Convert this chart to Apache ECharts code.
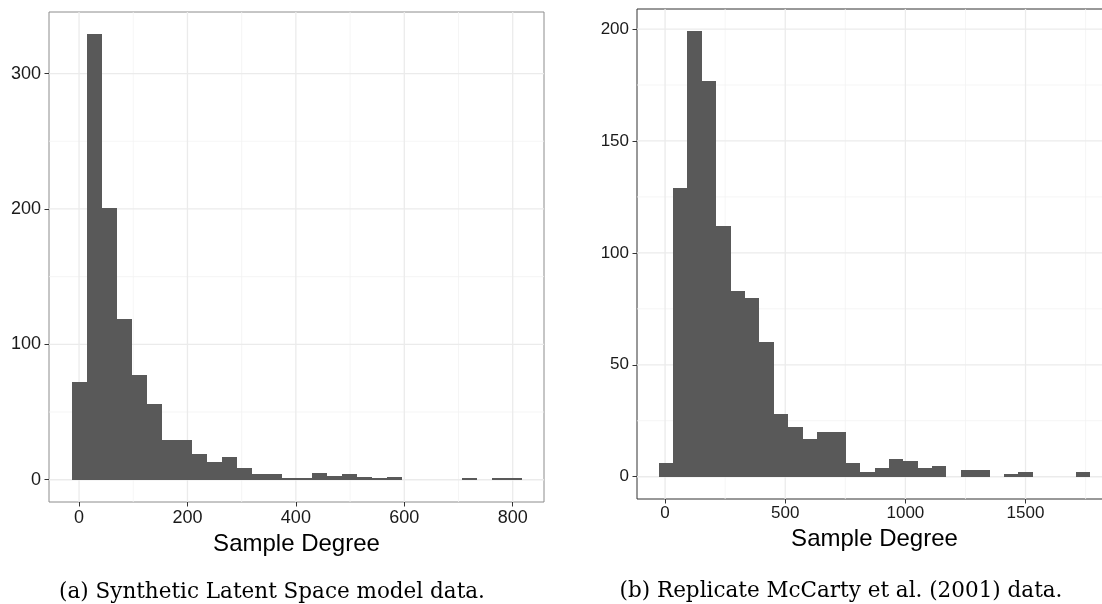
<!DOCTYPE html>
<html>
<head>
<meta charset="utf-8">
<script src="https://cdn.jsdelivr.net/npm/echarts@6/dist/echarts.min.js"></script>
<style>
html,body{margin:0;padding:0;background:#fff;}
#chart{width:1102px;height:604px;}
</style>
</head>
<body>
<div id="chart"></div>
<script>
// ---- data ----
const leftCounts = [72, 329, 201, 119, 77, 56, 29, 29, 19, 13, 17, 9, 4, 4, 1, 1, 5, 3, 4, 2, 1, 2, 0, 0, 0, 0, 1, 0, 1, 1];
const leftBinStart = -13.9;
const leftBinWidth = 27.67;
const rightCounts = [6, 129, 199, 177, 112, 83, 80, 60, 28, 22, 17, 20, 20, 6, 2, 4, 8, 7, 4, 5, 0, 3, 3, 0, 1, 2, 0, 0, 0, 2];
const rightBinStart = -27;
const rightBinWidth = 59.9;

const leftXTicks = [0, 200, 400, 600, 800];
const leftXMinor = [100, 300, 500, 700];
const leftYTicks = [0, 100, 200, 300];
const leftYMinor = [50, 150, 250];
const rightXTicks = [0, 500, 1000, 1500];
const rightXMinor = [250, 750, 1250, 1750];
const rightYTicks = [0, 50, 100, 150, 200];
const rightYMinor = [25, 75, 125, 175];

const xTitle = 'Sample Degree';
const captionA = '(a) Synthetic Latent Space model data.';
const captionB = '(b) Replicate McCarty et al. (2001) data.';

// ---- helpers ----
function binData(counts, start, width) {
  return counts.map((c, i) => [start + i * width, start + (i + 1) * width, c]);
}
function xExtent(counts, start, width) {
  const r = counts.length * width;
  return [start - 0.05 * r, start + r + 0.05 * r];
}
function yExtent(counts) {
  const m = Math.max.apply(null, counts);
  return [-0.05 * m, m * 1.05];
}

const MAJOR = {stroke: '#ebebeb', lineWidth: 1.3};
const MINOR = {stroke: '#f2f2f2', lineWidth: 0.8};

function vLines(values, idx, style, ymin) {
  return {
    type: 'custom', xAxisIndex: idx, yAxisIndex: idx, z: 1, silent: true,
    data: values.map(v => [v, ymin]),
    renderItem: function (params, api) {
      const cs = params.coordSys;
      const x = api.coord([api.value(0), api.value(1)])[0];
      return {type: 'line', shape: {x1: x, y1: cs.y, x2: x, y2: cs.y + cs.height}, style: style};
    }
  };
}
function hLines(values, idx, style, xmin) {
  return {
    type: 'custom', xAxisIndex: idx, yAxisIndex: idx, z: 1, silent: true,
    data: values.map(v => [xmin, v]),
    renderItem: function (params, api) {
      const cs = params.coordSys;
      const y = api.coord([api.value(0), api.value(1)])[1];
      return {type: 'line', shape: {x1: cs.x, y1: y, x2: cs.x + cs.width, y2: y}, style: style};
    }
  };
}
function bars(data, idx) {
  return {
    type: 'custom', xAxisIndex: idx, yAxisIndex: idx, z: 5, silent: true,
    data: data,
    encode: {x: [0, 1], y: 2},
    renderItem: function (params, api) {
      if (api.value(2) <= 0) return null;
      const p0 = api.coord([api.value(0), 0]);
      const p1 = api.coord([api.value(1), api.value(2)]);
      const x0 = Math.round(p0[0]), x1 = Math.round(p1[0]);
      const yb = Math.round(p0[1]), yt = Math.round(p1[1]);
      return {type: 'rect', shape: {x: x0, y: yt, width: x1 - x0, height: Math.max(1, yb - yt)},
              style: {fill: '#595959'}};
    }
  };
}

const lx = xExtent(leftCounts, leftBinStart, leftBinWidth);
const ly = yExtent(leftCounts);
const rx = xExtent(rightCounts, rightBinStart, rightBinWidth);
const ry = yExtent(rightCounts);

const plain = v => String(v);

function xAxisDef(idx, ext, ticks, fs, margin) {
  return {
    type: 'value', gridIndex: idx, min: ext[0], max: ext[1],
    axisLine: {show: false, onZero: false},
    splitLine: {show: false},
    axisTick: {show: true, customValues: ticks, length: 4.5, lineStyle: {color: '#333', width: 1}},
    axisLabel: {customValues: ticks, formatter: plain, color: '#1a1a1a', fontSize: fs, fontFamily: 'Liberation Sans', margin: margin},
    name: xTitle, nameLocation: 'middle', nameGap: 28,
    nameTextStyle: {fontSize: 24, color: '#000', fontFamily: 'Liberation Sans'}
  };
}
function yAxisDef(idx, ext, ticks, fs) {
  return {
    type: 'value', gridIndex: idx, min: ext[0], max: ext[1],
    axisLine: {show: false, onZero: false},
    splitLine: {show: false},
    axisTick: {show: true, customValues: ticks, length: 4.5, lineStyle: {color: '#333', width: 1}},
    axisLabel: {customValues: ticks, formatter: plain, color: '#1a1a1a', fontSize: fs, fontFamily: 'Liberation Sans', margin: 8}
  };
}

const chart = echarts.init(document.getElementById('chart'), null, {renderer: 'canvas'});
chart.setOption({
  backgroundColor: '#ffffff',
  animation: false,
  grid: [
    {left: 49, top: 12, width: 495, height: 490, outerBoundsMode: 'none', containLabel: false, show: true, borderColor: '#8c8c8c', borderWidth: 1, backgroundColor: 'transparent'},
    {left: 637, top: 9, width: 475, height: 490, outerBoundsMode: 'none', containLabel: false, show: true, borderColor: '#333', borderWidth: 1, backgroundColor: 'transparent'}
  ],
  xAxis: [xAxisDef(0, lx, leftXTicks, 18, 7), xAxisDef(1, rx, rightXTicks, 17, 6)],
  yAxis: [yAxisDef(0, ly, leftYTicks, 18), yAxisDef(1, ry, rightYTicks, 17)],
  series: [
    vLines(leftXMinor, 0, MINOR, 0), hLines(leftYMinor, 0, MINOR, 0),
    vLines(leftXTicks, 0, MAJOR, 0), hLines(leftYTicks, 0, MAJOR, 0),
    vLines(rightXMinor, 1, MINOR, 0), hLines(rightYMinor, 1, MINOR, 0),
    vLines(rightXTicks, 1, MAJOR, 0), hLines(rightYTicks, 1, MAJOR, 0),
    bars(binData(leftCounts, leftBinStart, leftBinWidth), 0),
    bars(binData(rightCounts, rightBinStart, rightBinWidth), 1)
  ],
  graphic: [
    {type: 'text', style: {text: captionA, fontFamily: 'DejaVu Serif', fontSize: 21.5, fill: '#000', x: 272, y: 592, align: 'center', verticalAlign: 'middle'}},
    {type: 'text', style: {text: captionB, fontFamily: 'DejaVu Serif', fontSize: 21.5, fill: '#000', x: 841, y: 591, align: 'center', verticalAlign: 'middle'}}
  ]
});
</script>
</body>
</html>
